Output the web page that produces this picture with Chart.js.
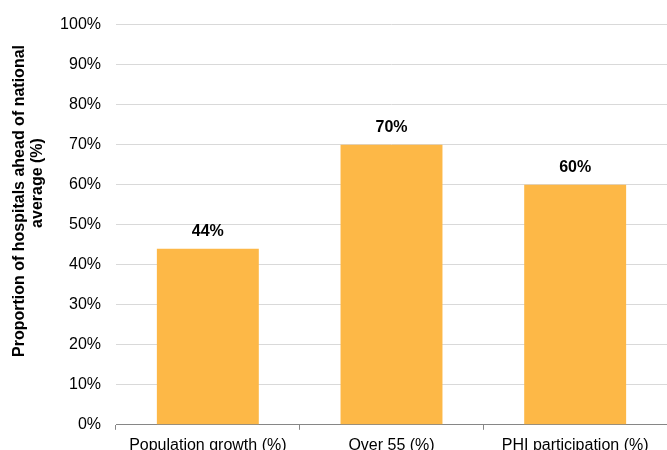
<!DOCTYPE html>
<html>
<head>
<meta charset="utf-8">
<script src="https://cdn.jsdelivr.net/npm/chart.js@4/dist/chart.umd.min.js"></script>
<style>
  html, body { margin: 0; padding: 0; background: #fff; overflow: hidden; }
  #wrap { width: 667px; height: 463px; position: relative; }
</style>
</head>
<body>
<div id="wrap"><canvas id="myChart"></canvas></div>
<script>
// categories and values
var categories = ['Population growth (%)', 'Over 55 (%)', 'PHI participation (%)'];
var shares = [44, 70, 60];
var yMin = 0, yMax = 100, yStep = 10;
var titleLines = ['Proportion of hospitals ahead of national', 'average (%)'];

var FONT = "'Liberation Sans', Arial, Helvetica, sans-serif";

// value labels above each bar
var barLabels = {
    id: 'barLabels',
    afterDatasetsDraw: function(chart) {
        var ctx = chart.ctx;
        var meta = chart.getDatasetMeta(0);
        ctx.save();
        ctx.font = 'bold 16px ' + FONT;
        ctx.fillStyle = '#000';
        ctx.textAlign = 'center';
        ctx.textBaseline = 'alphabetic';
        meta.data.forEach(function(bar, i) {
            ctx.fillText(shares[i] + '%', bar.x, bar.y - 13);
        });
        ctx.restore();
    }
};

// two line rotated axis title
var yTitle = {
    id: 'yTitle',
    afterDraw: function(chart) {
        var ctx = chart.ctx;
        var pos = [[23.5, 201], [41.5, 183]];
        ctx.save();
        ctx.font = 'bold 16px ' + FONT;
        ctx.fillStyle = '#000';
        ctx.textAlign = 'center';
        ctx.textBaseline = 'alphabetic';
        titleLines.forEach(function(line, i) {
            ctx.save();
            ctx.translate(pos[i][0], pos[i][1]);
            ctx.rotate(-Math.PI / 2);
            ctx.fillText(line, 0, 0);
            ctx.restore();
        });
        ctx.restore();
    }
};

var ctx = document.getElementById('myChart').getContext('2d');
var chart = new Chart(ctx, {
    type: 'bar',
    data: {
        labels: categories,
        datasets: [{
            data: shares,
            backgroundColor: '#FDB847',
            borderWidth: 0,
            barPercentage: 0.555,
            categoryPercentage: 1
        }]
    },
    options: {
        responsive: true,
        maintainAspectRatio: false,
        animation: false,
        layout: { padding: { left: 60, top: 23, right: 0, bottom: 2 } },
        plugins: {
            legend: { display: false },
            tooltip: { enabled: false }
        },
        scales: {
            x: {
                grid: {
                    offset: true,
                    drawOnChartArea: false,
                    drawTicks: true,
                    tickLength: 5,
                    color: '#868686'
                },
                border: { color: '#868686', width: 1 },
                ticks: {
                    color: '#000',
                    font: { family: FONT, size: 16 },
                    padding: 6,
                    maxRotation: 0,
                    autoSkip: false
                }
            },
            y: {
                min: yMin,
                max: yMax,
                afterFit: function(scale) { scale.width = 56; },
                grid: { color: '#D9D9D9', drawTicks: false },
                border: { display: false },
                ticks: {
                    stepSize: yStep,
                    padding: 15,
                    color: '#000',
                    font: { family: FONT, size: 16 },
                    callback: function(v) { return v + '%'; }
                }
            }
        }
    },
    plugins: [barLabels, yTitle]
});
</script>
</body>
</html>
